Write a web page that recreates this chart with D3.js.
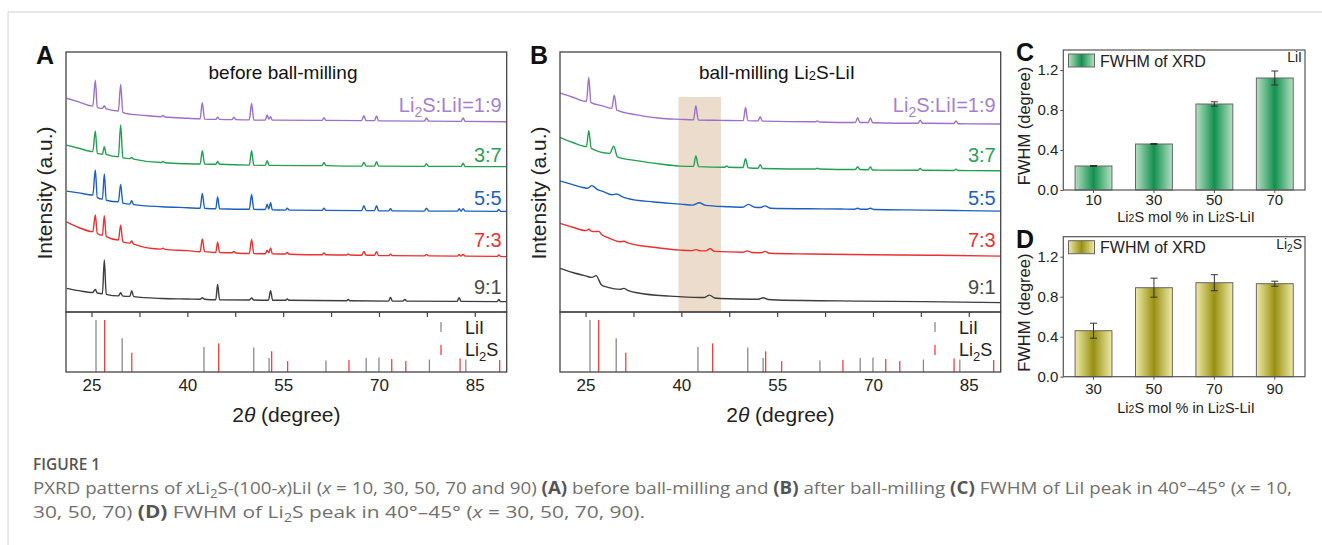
<!DOCTYPE html>
<meta charset="UTF-8">
<script src="https://cdn.jsdelivr.net/npm/d3@7"></script>
<style>
 body { margin:0; background:#fff; }
 svg text { font-family: Arial, "Liberation Sans", sans-serif; }
 svg text.cap { font-family: "Open Sans", sans-serif; }
</style>
<svg id="fig" width="1322" height="545"></svg>
<script>
// ---- data ----
// 2theta (degree) / intensity (a.u.), panel A : before ball-milling
var A_19 = [[21.1,82.2],[23,80.8],[25.2,79.2],[25.59,89.2],[25.9,78.6],[26.7,78.3],[27.0,79.3],[27.3,78.1],[29.2,77.3],[29.56,87.5],[29.9,76.8],[31,76.1],[33.5,75.6],[35.9,75.1],[36.2,75.6],[36.5,75.0],[40,74.5],[42.0,74.3],[42.34,80.5],[42.7,74.2],[44.45,74.1],[44.74,74.9],[45.05,74.1],[47.0,74.0],[47.3,74.9],[47.6,74.0],[49.7,73.9],[50.06,80.2],[50.4,73.8],[52.2,73.8],[52.5,75.8],[52.75,74.2],[53.03,75.1],[53.3,73.8],[61.1,73.7],[61.38,74.7],[61.7,73.7],[67.3,73.6],[67.64,75.5],[68,73.6],[69.3,73.6],[69.62,75.4],[69.95,73.5],[77.1,73.4],[77.44,74.6],[77.8,73.4],[82.85,73.3],[83.18,74.6],[83.5,73.3],[90,73.2]];
var A_37 = [[21.1,64.2],[23,63],[25.2,61.7],[25.59,69.6],[25.9,61.0],[26.7,60.7],[27.0,63.6],[27.3,60.6],[29.2,59.7],[29.56,71.9],[29.9,59.3],[31.0,59.0],[31.28,59.4],[31.6,58.8],[35.9,57.5],[36.2,57.9],[36.5,57.4],[40,57.0],[42.0,56.9],[42.34,62.0],[42.7,56.9],[44.45,56.8],[44.74,57.9],[45.05,56.8],[49.7,56.5],[50.06,62.0],[50.4,56.5],[52.2,56.4],[52.5,58.2],[52.8,56.4],[61.1,56.3],[61.38,57.5],[61.7,56.3],[67.3,56.1],[67.64,57.5],[68,56.1],[69.3,56.1],[69.62,57.8],[69.95,56.1],[77.1,56.0],[77.44,57.0],[77.8,56.0],[82.85,56.0],[83.18,57.2],[83.5,55.9],[90,55.9]];
var A_55 = [[21.1,46.5],[23,45.8],[25.2,45.0],[25.59,54.6],[25.9,44.0],[26.7,43.4],[27.0,53.1],[27.3,43.0],[29.2,42.4],[29.56,49.1],[29.9,41.9],[31.0,41.5],[31.28,42.8],[31.6,41.3],[36,40.5],[40,40.1],[42.0,39.9],[42.34,45.6],[42.7,39.9],[44.45,39.7],[44.74,44.3],[45.05,39.7],[49.7,39.5],[50.06,45.2],[50.4,39.5],[52.2,39.4],[52.5,41.5],[52.75,39.6],[53.03,42.0],[53.3,39.3],[55.35,39.2],[55.64,39.9],[55.95,39.2],[61.1,39.1],[61.38,39.9],[61.7,39.1],[67.3,39.0],[67.64,40.9],[68,39.0],[69.3,39.0],[69.62,40.9],[69.95,38.9],[71.5,38.9],[71.81,39.7],[72.1,38.9],[77.1,38.8],[77.44,39.9],[77.8,38.8],[82.3,38.8],[82.55,39.7],[82.85,38.8],[83.18,39.7],[83.5,38.8],[88.5,38.7],[88.76,39.4],[89.05,38.7],[90,38.7]];
var A_73 = [[21.1,34.7],[23,32.5],[25.2,30.9],[25.59,37.3],[25.9,30.2],[26.7,29.5],[27.0,37.0],[27.3,29.0],[29.2,27.7],[29.56,33.4],[29.9,27.0],[31.0,26.5],[31.28,27.3],[31.6,26.1],[35.9,24.2],[36.2,24.5],[36.5,24.1],[40,23.6],[42.0,23.2],[42.34,28.1],[42.7,23.2],[44.45,22.9],[44.74,26.8],[45.05,22.9],[47.0,22.8],[47.3,23.3],[47.6,22.7],[49.7,22.5],[50.06,27.9],[50.4,22.5],[52.2,22.4],[52.5,23.8],[52.75,22.8],[53.03,24.6],[53.3,22.4],[55.35,22.3],[55.64,22.9],[55.95,22.2],[61.1,22.0],[61.38,22.7],[61.7,22.0],[64.9,21.9],[65.18,22.3],[65.5,21.9],[67.3,21.8],[67.64,23.3],[68,21.8],[69.3,21.8],[69.62,23.2],[69.95,21.7],[71.5,21.7],[71.81,22.2],[72.1,21.7],[77.1,21.6],[77.44,22.1],[77.8,21.6],[82.3,21.5],[82.55,22.1],[82.85,21.5],[83.18,22.1],[83.5,21.5],[88.5,21.4],[88.76,21.9],[89.05,21.4],[90,21.3]];
var A_91 = [[21.1,9.1],[23,8.2],[25.2,7.5],[25.59,8.7],[25.9,7.3],[26.7,7.0],[27.0,20.0],[27.3,6.8],[29.2,6.2],[29.56,7.4],[29.9,6.1],[31.0,6.0],[31.28,8.2],[31.6,5.9],[36,5.2],[40,5.0],[42.0,4.9],[42.34,5.5],[42.7,4.9],[44.45,4.7],[44.74,10.6],[45.05,4.7],[49.7,4.6],[50.06,5.4],[50.4,4.6],[52.7,4.5],[53.03,8.2],[53.35,4.5],[55.35,4.5],[55.64,5.0],[55.95,4.5],[64.9,4.3],[65.18,4.8],[65.5,4.3],[71.5,4.2],[71.81,5.6],[72.1,4.2],[73.75,4.2],[74.05,4.8],[74.35,4.2],[82.25,4.1],[82.55,5.5],[82.85,4.1],[88.5,4.0],[88.76,4.8],[89.05,4.0],[90,4.0]];

// panel B : ball-milling Li2S-LiI
var B_19 = [[21,84.3],[23,82.6],[25.15,81.0],[25.5,90.2],[25.85,80.5],[27.8,79.2],[29.1,78.3],[29.5,83.4],[29.9,77.6],[33,75.8],[36.7,74.5],[39.9,74.1],[41.9,73.9],[42.27,79.3],[42.65,73.8],[46.1,73.7],[49.7,73.6],[50.05,78.7],[50.4,73.6],[52.0,73.5],[52.35,75.1],[52.7,73.4],[61.0,73.2],[61.3,73.5],[61.6,73.1],[67.25,72.9],[67.6,74.7],[67.95,72.9],[69.25,72.9],[69.6,74.6],[69.95,72.8],[77.05,72.6],[77.4,73.8],[77.75,72.6],[82.65,72.5],[83.0,73.5],[83.35,72.4],[90,72.3]];
var B_37 = [[21,67.2],[23,65.2],[25.15,63.6],[25.5,69.7],[25.9,62.9],[28.8,61.0],[29.4,63.8],[30.0,59.7],[33,58.2],[36.7,56.9],[39.9,56.1],[41.9,56.0],[42.27,60.0],[42.7,55.9],[46.8,55.7],[47.1,56.2],[47.4,55.7],[49.65,55.6],[50.05,59.0],[50.45,55.5],[52.0,55.3],[52.35,56.7],[52.7,55.2],[61.0,55.0],[61.3,55.3],[61.6,55.0],[67.25,54.8],[67.6,55.9],[67.95,54.8],[69.25,54.7],[69.6,55.8],[69.95,54.6],[77.05,54.5],[77.4,55.2],[77.75,54.5],[82.65,54.4],[83.0,54.9],[83.35,54.4],[90,54.3]];
var B_55 = [[21,50.4],[23,49.0],[24.6,47.9],[25.3,47.6],[26.0,48.6],[26.8,47.2],[27.8,46.3],[29.1,45.1],[29.9,45.4],[30.7,44.4],[31.5,43.7],[35.7,42.3],[39.9,41.5],[41.8,41.1],[42.8,42.0],[43.8,41.0],[47.1,40.5],[49.6,40.3],[50.5,41.4],[51.5,40.3],[52.4,40.2],[53.1,40.8],[54.0,39.9],[60,39.7],[65,39.6],[67.0,39.5],[67.6,39.9],[68.2,39.5],[69.0,39.5],[69.6,39.9],[70.2,39.4],[78,39.2],[84,39.0],[90,38.8]];
var B_73 = [[21,34.1],[23,32.6],[25.1,31.3],[25.5,31.8],[25.9,31.1],[26.4,30.9],[27.06,31.0],[27.6,29.6],[28.4,28.7],[30.4,27.0],[31.0,27.2],[31.6,26.6],[35.7,24.9],[39.9,23.8],[41.6,23.6],[42.3,24.0],[43.0,23.5],[43.8,23.5],[44.5,24.3],[45.2,23.3],[49.6,23.0],[50.3,23.5],[51.0,22.9],[52.5,22.8],[53.1,23.3],[53.8,22.6],[60,22.3],[70,22.0],[80,21.8],[90,21.5]];
var B_91 = [[21,16.8],[23,15.2],[25,13.9],[26.0,13.3],[26.64,14.0],[27.5,10.4],[28.5,9.5],[30.4,8.7],[31.0,9.1],[31.6,8.3],[33.5,7.2],[38.2,6.1],[42.9,5.6],[43.6,5.6],[44.4,6.5],[45.2,5.4],[46.1,5.2],[51.3,4.9],[52.1,4.9],[52.8,5.5],[53.6,4.8],[55,4.6],[68,4.2],[78,4.0],[90,3.6]];

var ratioLabels = ["Li₂S:LiI=1:9", "3:7", "5:5", "7:3", "9:1"];
var highlightB = [39.55, 46.2];   // 2theta range shaded in B

// reference patterns (2theta, relative intensity)
var refLiI_pos  = [25.7, 29.8, 42.6, 50.4, 52.8, 61.7, 68.0, 70.0, 77.9, 83.6];
var refLiI_int  = [100, 65, 48, 47, 27, 22, 27, 28, 24, 24];
var refLi2S_pos = [27.05, 31.3, 44.9, 53.2, 55.7, 65.3, 72.0, 74.2, 82.7, 88.9];
var refLi2S_int = [100, 37, 55, 40, 21, 23, 25, 21, 26, 23];
var xTicks = [25, 40, 55, 70, 85];

// FWHM bars
var catsC = ["10", "30", "50", "70"];
var fwhmC = [0.24, 0.46, 0.86, 1.12];
var errC  = [0.005, 0.005, 0.022, 0.07];
var catsD = ["30", "50", "70", "90"];
var fwhmD = [0.46, 0.89, 0.94, 0.93];
var errD  = [0.075, 0.095, 0.08, 0.025];
var fwhmTicks = [0, 0.4, 0.8, 1.2];

// ---- drawing ----
var lineColors  = ["#9d6fc9", "#22a052", "#1c5fc2", "#ec2f2f", "#3d3d3d"];
var labelColors = ["#a47fd0", "#2c9f55", "#1f5fbf", "#e93333", "#4a4a4a"];
var labelY = [112, 162, 205, 247, 294];

var svg = d3.select("#fig");
svg.append("rect").attr("width",1322).attr("height",545).attr("fill","#fff");
svg.append("line").attr("x1",8).attr("x2",1322).attr("y1",12).attr("y2",12).attr("stroke","#d2d2d2");
svg.append("line").attr("x1",8).attr("x2",8).attr("y1",12).attr("y2",545).attr("stroke","#d2d2d2");

// writes "Li₂S"-style strings with a real lowered 2
function chem(sel, str, sub, shift) {
    shift = shift || 4;
    var parts = str.split("₂");
    parts.forEach(function (p, i) {
        if (i > 0) sel.append("tspan").attr("font-size", sub).attr("dy", shift).text("2");
        var t = sel.append("tspan").text(p);
        if (i > 0) t.attr("dy", -shift);
    });
    return sel;
}

function drawXRD(left, patterns, title, letter, highlight) {
    var right = left + 440.7;
    var x = d3.scaleLinear().domain([21, 90]).range([left, right]);
    var y = d3.scaleLinear().domain([0, 100]).range([312, 52]);
    var ys = d3.scaleLinear().domain([0, 100]).range([372, 320]);
    var g = svg.append("g");

    if (highlight)
        g.append("rect").attr("x", x(highlight[0])).attr("width", x(highlight[1]) - x(highlight[0]))
         .attr("y", 97).attr("height", 215).attr("fill", "#ebdccb");

    var line = d3.line().x(function (d) { return x(d[0]); }).y(function (d) { return y(d[1]); })
                 .curve(d3.curveMonotoneX);
    patterns.forEach(function (p, i) {
        g.append("path").attr("d", line(p)).attr("fill", "none")
         .attr("stroke", lineColors[i]).attr("stroke-width", 1.4);
    });

    ratioLabels.forEach(function (l, i) {
        chem(g.append("text").attr("x", right - 5).attr("y", labelY[i]).attr("text-anchor", "end")
              .attr("font-size", 20).attr("fill", labelColors[i]), l, 14, 5);
    });

    // reference sticks
    refLiI_pos.forEach(function (p, i) {
        g.append("line").attr("x1", x(p)).attr("x2", x(p)).attr("y1", ys(0)).attr("y2", ys(refLiI_int[i]))
         .attr("stroke", "#8a8a8a").attr("stroke-width", 1.3);
    });
    refLi2S_pos.forEach(function (p, i) {
        g.append("line").attr("x1", x(p)).attr("x2", x(p)).attr("y1", ys(0)).attr("y2", ys(refLi2S_int[i]))
         .attr("stroke", "#ff3c3c").attr("stroke-width", 1.3);
    });

    // frames
    g.append("rect").attr("x", left).attr("y", 52).attr("width", right - left).attr("height", 260)
     .attr("fill", "none").attr("stroke", "#444").attr("stroke-width", 1.3);
    g.append("rect").attr("x", left).attr("y", 312).attr("width", right - left).attr("height", 60)
     .attr("fill", "none").attr("stroke", "#444").attr("stroke-width", 1.3);

    // ticks under the pattern panel
    var tk = g.append("g").attr("transform", "translate(0,312)")
        .call(d3.axisBottom(x).tickValues(d3.range(25, 90, 7.5)).tickSize(5).tickFormat(""));
    tk.select(".domain").remove();
    tk.selectAll("line").attr("stroke", "#444").attr("stroke-width", 1.2);

    var ax = g.append("g").attr("transform", "translate(0,372)")
        .call(d3.axisBottom(x).tickValues(xTicks).tickSize(0).tickPadding(7).tickFormat(d3.format("d")));
    ax.select(".domain").remove();
    ax.selectAll("text").attr("font-size", 17).attr("fill", "#222")
      .style("font-family", "Arial, 'Liberation Sans', sans-serif");

    // legend in the reference panel
    var lx = left + 375;
    g.append("line").attr("x1", lx).attr("x2", lx).attr("y1", 322).attr("y2", 332).attr("stroke", "#8a8a8a").attr("stroke-width", 1.3);
    g.append("line").attr("x1", lx).attr("x2", lx).attr("y1", 345).attr("y2", 355).attr("stroke", "#ff3c3c").attr("stroke-width", 1.3);
    g.append("text").attr("x", lx + 24).attr("y", 334).attr("font-size", 18).attr("fill", "#222").text("LiI");
    chem(g.append("text").attr("x", lx + 24).attr("y", 356).attr("font-size", 18).attr("fill", "#222"), "Li₂S", 13, 5);

    // titles
    chem(g.append("text").attr("x", left + 217).attr("y", 79).attr("text-anchor", "middle")
          .attr("font-size", 19).attr("fill", "#111"), title, 13, 0.5);
    g.append("text").attr("x", left - 30).attr("y", 64).attr("font-size", 25).attr("font-weight", "bold")
     .attr("fill", "#111").text(letter);
    g.append("text").attr("transform", "translate(" + (left - 14) + ",193) rotate(-90)")
     .attr("text-anchor", "middle").attr("font-size", 21).attr("fill", "#222").text("Intensity (a.u.)");
    var xt = g.append("text").attr("x", (left + right) / 2).attr("y", 422).attr("text-anchor", "middle")
     .attr("font-size", 21).attr("fill", "#222");
    xt.append("tspan").text("2");
    xt.append("tspan").attr("font-style", "italic").text("θ");
    xt.append("tspan").text(" (degree)");
}

drawXRD(66, [A_19, A_37, A_55, A_73, A_91], "before ball-milling", "A", null);
drawXRD(560, [B_19, B_37, B_55, B_73, B_91], "ball-milling Li₂S-LiI", "B", highlightB);

// gradients for the bars
var defs = svg.append("defs");
function grad(id, edge, mid) {
    var lg = defs.append("linearGradient").attr("id", id).attr("x1", 0).attr("x2", 1).attr("y1", 0).attr("y2", 0);
    lg.append("stop").attr("offset", 0).attr("stop-color", edge);
    lg.append("stop").attr("offset", 0.5).attr("stop-color", mid);
    lg.append("stop").attr("offset", 1).attr("stop-color", edge);
}
grad("gC", "#b4e0c2", "#139050");
grad("gD", "#efeba8", "#988f12");

function drawBars(top, cats, vals, errs, fillId, letter, tag, xTitleY, xPad) {
    var left = 1063.3, right = 1305, bottom = top + 140;
    var x = d3.scaleBand().domain(cats).range([left, right]).paddingInner(0.39).paddingOuter(0.195);
    var y = d3.scaleLinear().domain([0, 1.4]).range([bottom, top]);
    var g = svg.append("g");

    cats.forEach(function (c, i) {
        g.append("rect").attr("x", x(c)).attr("width", x.bandwidth()).attr("y", y(vals[i]))
         .attr("height", y(0) - y(vals[i])).attr("fill", "url(#" + fillId + ")")
         .attr("stroke", "#666").attr("stroke-width", 1);
        var cx = x(c) + x.bandwidth() / 2;
        g.append("line").attr("x1", cx).attr("x2", cx).attr("y1", y(vals[i] - errs[i])).attr("y2", y(vals[i] + errs[i]))
         .attr("stroke", "#333").attr("stroke-width", 1);
        [vals[i] - errs[i], vals[i] + errs[i]].forEach(function (v) {
            g.append("line").attr("x1", cx - 3.5).attr("x2", cx + 3.5).attr("y1", y(v)).attr("y2", y(v))
             .attr("stroke", "#333").attr("stroke-width", 1);
        });
    });

    g.append("rect").attr("x", left).attr("y", top).attr("width", right - left).attr("height", 140)
     .attr("fill", "none").attr("stroke", "#555").attr("stroke-width", 1.2);

    var ya = g.append("g").attr("transform", "translate(" + left + ",0)")
        .call(d3.axisLeft(y).tickValues(fwhmTicks).tickSize(3).tickPadding(2).tickFormat(d3.format(".1f")));
    ya.select(".domain").remove();
    ya.selectAll("text").attr("font-size", 15).attr("fill", "#222").style("font-family", "Arial, 'Liberation Sans', sans-serif");
    ya.selectAll("line").attr("stroke", "#555");

    var xa = g.append("g").attr("transform", "translate(0," + bottom + ")")
        .call(d3.axisBottom(x).tickSize(3).tickPadding(xPad));
    xa.select(".domain").remove();
    xa.selectAll("text").attr("font-size", 15).attr("fill", "#222").style("font-family", "Arial, 'Liberation Sans', sans-serif");
    xa.selectAll("line").attr("stroke", "#555");

    chem(g.append("text").attr("x", 1186).attr("y", xTitleY).attr("text-anchor", "middle")
          .attr("font-size", 14.5).attr("fill", "#222"), "Li₂S mol % in Li₂S-LiI", 10.5, 0.5);
    g.append("text").attr("transform", "translate(1030," + (top + 76) + ") rotate(-90)")
     .attr("text-anchor", "middle").attr("font-size", 16.5).attr("fill", "#222").text("FWHM (degree)");

    // legend
    g.append("rect").attr("x", 1068.5).attr("y", top + 4).attr("width", 26).attr("height", 13)
     .attr("fill", "url(#" + fillId + ")").attr("stroke", "#666");
    g.append("text").attr("x", 1100).attr("y", top + 16.5).attr("font-size", 16).attr("fill", "#222").text("FWHM of XRD");
    chem(g.append("text").attr("x", right - 3).attr("y", top + 12).attr("text-anchor", "end")
          .attr("font-size", 14).attr("fill", "#222"), tag, 10, 3);
    g.append("text").attr("x", 1016).attr("y", top + 11).attr("font-size", 25).attr("font-weight", "bold")
     .attr("fill", "#111").text(letter);
}

drawBars(50, catsC, fwhmC, errC, "gC", "C", "LiI", 221.5, 1);
drawBars(236.7, catsD, fwhmD, errD, "gD", "D", "Li₂S", 412.5, 4);

// caption
svg.append("text").attr("class", "cap").attr("x", 33).attr("y", 470).attr("font-size", 15.5)
   .attr("font-weight", 600).attr("fill", "#555").text("FIGURE 1");

function seg(t, s, st) { var ts = t.append("tspan").text(s); if (st === "i") ts.attr("font-style", "italic"); if (st === "b") ts.attr("font-weight", 700).attr("fill", "#555"); return ts; }

var l1 = svg.append("text").attr("class", "cap").attr("x", 33).attr("y", 494).attr("font-size", 17)
   .attr("fill", "#707070").attr("textLength", 1259).attr("lengthAdjust", "spacingAndGlyphs");
seg(l1, "PXRD patterns of "); seg(l1, "x", "i"); seg(l1, "Li");
l1.append("tspan").attr("font-size", 12).attr("dy", 4).text("2");
l1.append("tspan").attr("dy", -4).text("S-(100-"); seg(l1, "x", "i"); seg(l1, ")LiI (");
seg(l1, "x", "i"); seg(l1, " = 10, 30, 50, 70 and 90) "); seg(l1, "(A)", "b"); seg(l1, " before ball-milling and ");
seg(l1, "(B)", "b"); seg(l1, " after ball-milling "); seg(l1, "(C)", "b"); seg(l1, " FWHM of LiI peak in 40°–45° (");
seg(l1, "x", "i"); seg(l1, " = 10,");

var l2 = svg.append("text").attr("class", "cap").attr("x", 33).attr("y", 518).attr("font-size", 17)
   .attr("fill", "#707070").attr("textLength", 612).attr("lengthAdjust", "spacingAndGlyphs");
seg(l2, "30, 50, 70) "); seg(l2, "(D)", "b"); seg(l2, " FWHM of Li");
l2.append("tspan").attr("font-size", 12).attr("dy", 4).text("2");
l2.append("tspan").attr("dy", -4).text("S peak in 40°–45° ("); seg(l2, "x", "i"); seg(l2, " = 30, 50, 70, 90).");
</script>
